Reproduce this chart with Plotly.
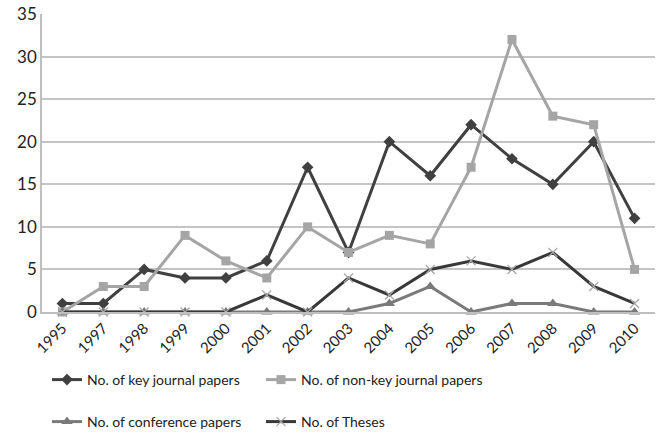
import plotly.graph_objects as go

years = ["1995", "1997", "1998", "1999", "2000", "2001", "2002", "2003",
         "2004", "2005", "2006", "2007", "2008", "2009", "2010"]
key_journal = [1, 1, 5, 4, 4, 6, 17, 7, 20, 16, 22, 18, 15, 20, 11]
nonkey_journal = [0, 3, 3, 9, 6, 4, 10, 7, 9, 8, 17, 32, 23, 22, 5]
conference = [0, 0, 0, 0, 0, 0, 0, 0, 1, 3, 0, 1, 1, 0, 0]
theses = [0, 0, 0, 0, 0, 2, 0, 4, 2, 5, 6, 5, 7, 3, 1]

FONT = "Lato, 'Open Sans', sans-serif"
W, H = 661, 435

fig = go.Figure()
fig.add_trace(go.Scatter(
    x=years, y=key_journal, name="No. of key journal papers", mode="lines+markers",
    line=dict(color="#404040", width=3),
    marker=dict(symbol="diamond", size=9, color="#404040"),
    legend="legend", cliponaxis=False))
fig.add_trace(go.Scatter(
    x=years, y=nonkey_journal, name="No. of non-key journal papers", mode="lines+markers",
    line=dict(color="#a5a5a5", width=3),
    marker=dict(symbol="square", size=9, color="#a5a5a5"),
    legend="legend2", cliponaxis=False))
fig.add_trace(go.Scatter(
    x=years, y=conference, name="No. of conference papers", mode="lines+markers",
    line=dict(color="#7a7a7a", width=3),
    marker=dict(symbol="triangle-up", size=10, color="#7a7a7a"),
    legend="legend3", cliponaxis=False))
fig.add_trace(go.Scatter(
    x=years, y=theses, name="No. of Theses", mode="lines+markers",
    line=dict(color="#383838", width=3),
    marker=dict(symbol="x-thin", size=9, line=dict(color="#a8a8a8", width=1.3)),
    legend="legend4", cliponaxis=False))


def legend_at(px_x, px_y):
    # place a single-entry legend by pixel position in the page
    return dict(orientation="h", xref="container", yref="container",
                x=px_x / W, y=1 - px_y / H, xanchor="left", yanchor="middle",
                font=dict(family=FONT, size=14, color="#222222"),
                bgcolor="rgba(0,0,0,0)", itemwidth=30)


fig.update_layout(
    width=W, height=H,
    showlegend=True,
    margin=dict(l=42, r=6, t=14, b=123, autoexpand=False),
    paper_bgcolor="white", plot_bgcolor="white",
    font=dict(family=FONT, color="#222222"),
    legend=legend_at(47, 380),
    legend2=legend_at(261, 380),
    legend3=legend_at(47, 422),
    legend4=legend_at(261, 422),
    xaxis=dict(type="category", range=[-0.5, 14.5], tickangle=-45, automargin=False,
               showgrid=False, showline=True, linecolor="#bfbfbf", linewidth=1.5,
               tickfont=dict(family=FONT, size=15, color="#222222"), ticks=""),
    yaxis=dict(range=[0, 35], dtick=5, showgrid=True, gridcolor="#c4c4c4", gridwidth=1.5,
               automargin=False,
               showline=True, linecolor="#bfbfbf", linewidth=1.5, zeroline=False,
               tickfont=dict(family=FONT, size=17, color="#222222"), ticks=""),
)

fig.write_html("out.html")
